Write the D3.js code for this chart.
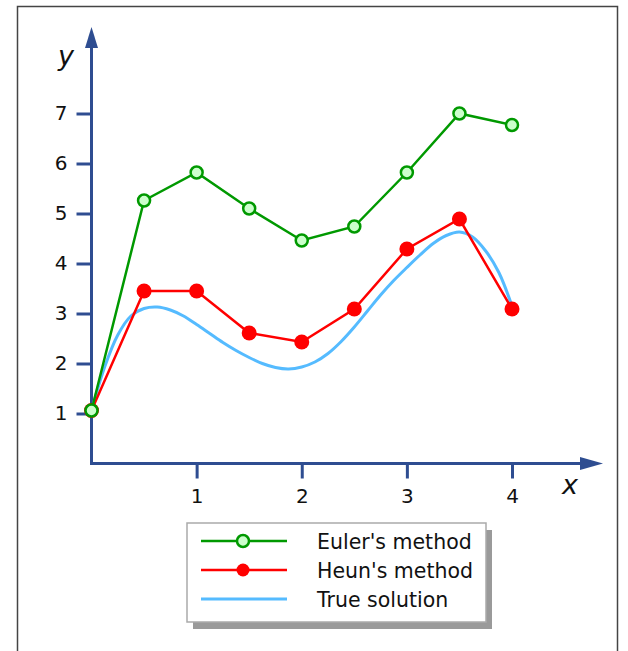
<!DOCTYPE html>
<html><head><meta charset="utf-8">
<script src="https://cdn.jsdelivr.net/npm/d3@7"></script>
<style>body{margin:0;background:#fff}svg{display:block}</style>
</head><body>
<script>
const eulerX = [0, 0.5, 1, 1.5, 2, 2.5, 3, 3.5, 4];
const eulerY = [1.06, 5.26, 5.82, 5.1, 4.46, 4.74, 5.82, 7.0, 6.77];
const heunX = [0, 0.5, 1, 1.5, 2, 2.5, 3, 3.5, 4];
const heunY = [1.06, 3.45, 3.45, 2.61, 2.43, 3.09, 4.29, 4.89, 3.09];
const trueX = [0, 0.125, 0.25, 0.375, 0.5, 0.625, 0.75, 0.875, 1, 1.125, 1.25, 1.375, 1.5, 1.625, 1.75, 1.875, 2, 2.125, 2.25, 2.375, 2.5, 2.625, 2.75, 2.875, 3, 3.125, 3.25, 3.375, 3.5, 3.625, 3.75, 3.875, 4];
const trueY = [1.06, 1.93, 2.57, 2.95, 3.1, 3.13, 3.07, 2.95, 2.78, 2.6, 2.42, 2.26, 2.12, 2.0, 1.92, 1.89, 1.93, 2.03, 2.2, 2.44, 2.73, 3.05, 3.37, 3.66, 3.92, 4.17, 4.4, 4.56, 4.63, 4.53, 4.25, 3.82, 3.15];
const xTicks = [1, 2, 3, 4];
const yTicks = [1, 2, 3, 4, 5, 6, 7];
const legendLabels = ["Euler's method", "Heun's method", "True solution"];

const W = 628, H = 651;
const svg = d3.select("body").append("svg").attr("width", W).attr("height", H);
const font = "DejaVu Sans, Verdana, sans-serif";
const axisColor = "#2E4D91";

// frame
svg.append("rect").attr("x", 17.5).attr("y", 6.5).attr("width", 600).attr("height", 700)
  .attr("fill", "none").attr("stroke", "#444").attr("stroke-width", 1.5);

const x = d3.scaleLinear().domain([0, 4]).range([91.5, 512]);
const y = d3.scaleLinear().domain([0, 7]).range([463.5, 113.5]);

// axes
const axisX = d3.axisBottom(x).tickValues(xTicks).tickSize(15).tickPadding(10).tickFormat(d3.format("d"));
const gx = svg.append("g").attr("transform", `translate(0,${y(0)})`).call(axisX);
gx.select(".domain").remove();
gx.selectAll(".tick line").attr("stroke", axisColor).attr("stroke-width", 3);
gx.selectAll(".tick text").attr("fill", "#111").style("font-family", font).style("font-size", "20px");

const axisY = d3.axisLeft(y).tickValues(yTicks).tickSize(15).tickPadding(9).tickFormat(d3.format("d"));
const gy = svg.append("g").attr("transform", `translate(${x(0)},0)`).call(axisY);
gy.select(".domain").remove();
gy.selectAll(".tick line").attr("stroke", axisColor).attr("stroke-width", 3);
gy.selectAll(".tick text").attr("fill", "#111").style("font-family", font).style("font-size", "20px");

// axis lines with arrows
svg.append("line").attr("x1", x(0)).attr("y1", y(0)).attr("x2", x(0)).attr("y2", 46)
  .attr("stroke", axisColor).attr("stroke-width", 3);
svg.append("path").attr("d", `M${x(0)},27 L${x(0)-6.5},48 L${x(0)+6.5},48 Z`).attr("fill", axisColor);
svg.append("line").attr("x1", x(0)-1.5).attr("y1", y(0)).attr("x2", 582).attr("y2", y(0))
  .attr("stroke", axisColor).attr("stroke-width", 3);
svg.append("path").attr("d", `M603,${y(0)} L580,${y(0)-6.5} L580,${y(0)+6.5} Z`).attr("fill", axisColor);

svg.append("text").attr("x", 58).attr("y", 65).text("y")
  .style("font-family", font).style("font-style", "italic").style("font-size", "27px").attr("fill", "#111");
svg.append("text").attr("x", 562).attr("y", 494).text("x")
  .style("font-family", font).style("font-style", "italic").style("font-size", "27px").attr("fill", "#111");

// true solution
const line = d3.line().x(d => x(d[0])).y(d => y(d[1])).curve(d3.curveCatmullRom);
svg.append("path").datum(trueX.map((v, i) => [v, trueY[i]])).attr("d", line)
  .attr("fill", "none").attr("stroke", "#55BBFF").attr("stroke-width", 3);

const lin = d3.line().x(d => x(d[0])).y(d => y(d[1]));
const heun = heunX.map((v, i) => [v, heunY[i]]);
svg.append("path").datum(heun).attr("d", lin).attr("fill", "none").attr("stroke", "#FF0000").attr("stroke-width", 2.5);
svg.selectAll(".hm").data(heun).join("circle").attr("cx", d => x(d[0])).attr("cy", d => y(d[1])).attr("r", 7.5).attr("fill", "#FF0000");

const euler = eulerX.map((v, i) => [v, eulerY[i]]);
svg.append("path").datum(euler).attr("d", lin).attr("fill", "none").attr("stroke", "#009900").attr("stroke-width", 2.5);
svg.selectAll(".em").data(euler).join("circle").attr("cx", d => x(d[0])).attr("cy", d => y(d[1])).attr("r", 6)
  .attr("fill", "#CCFFCC").attr("stroke", "#009900").attr("stroke-width", 2.5);

// legend
const lx = 187, ly = 523, lw = 299, lh = 99;
svg.append("rect").attr("x", lx + 6).attr("y", ly + 7).attr("width", lw).attr("height", lh).attr("fill", "#9A9A9A");
svg.append("rect").attr("x", lx).attr("y", ly).attr("width", lw).attr("height", lh).attr("fill", "#fff")
  .attr("stroke", "#AAAAAA").attr("stroke-width", 1.5);
const rows = [
  {c: "#009900", m: "open"},
  {c: "#FF0000", m: "fill"},
  {c: "#55BBFF", m: "none"}
];
rows.forEach((r, i) => {
  const yy = 541 + i * 29;
  svg.append("line").attr("x1", 201).attr("x2", 287).attr("y1", yy).attr("y2", yy).attr("stroke", r.c).attr("stroke-width", i === 2 ? 3 : 2.5);
  if (r.m === "open") svg.append("circle").attr("cx", 243).attr("cy", yy).attr("r", 6).attr("fill", "#CCFFCC").attr("stroke", r.c).attr("stroke-width", 2.5);
  if (r.m === "fill") svg.append("circle").attr("cx", 243).attr("cy", yy).attr("r", 6.5).attr("fill", r.c);
  svg.append("text").attr("x", 317).attr("y", yy + 7.5).text(legendLabels[i])
    .style("font-family", font).style("font-size", "20.5px").attr("fill", "#111");
});
</script>
</body></html>
